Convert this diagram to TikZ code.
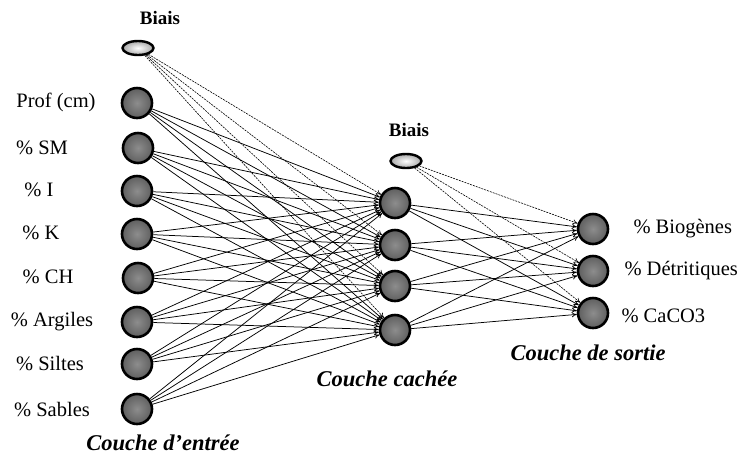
\documentclass[tikz,border=0pt]{standalone}
\usepackage{fontspec}
\setmainfont{Liberation Serif}
\usetikzlibrary{arrows.meta,shapes.geometric}
\definecolor{nodegray}{RGB}{112,112,112}
\definecolor{biasgray}{RGB}{225,225,225}
\begin{document}
\begin{tikzpicture}[x=1pt,y=-1pt,
  neuron/.style={circle,draw=black,line width=2.6pt,minimum size=30pt,inner sep=0pt,
    shading=radial,inner color=nodegray!80!white,outer color=nodegray!85!black},
  biasnode/.style={ellipse,draw=black,line width=2.4pt,minimum width=31pt,minimum height=14pt,inner sep=0pt,
    shading=radial,inner color=white,outer color=biasgray!75!black},
  lbl/.style={font=\fontsize{20.5}{23}\selectfont},
  title/.style={font=\fontsize{22.5}{25}\selectfont\bfseries\itshape},
  btitle/.style={font=\fontsize{19}{21}\selectfont\bfseries},
  conn/.style={line width=0.75pt,-{To[length=5pt,width=5pt]}},
  dconn/.style={line width=0.6pt,dash pattern=on 2pt off 1pt,-{To[length=5pt,width=5pt]}}
]
\useasboundingbox (0,0) rectangle (754,459);
% input layer
\node[neuron] (i1) at (137,103) {};
\node[neuron] (i2) at (138,148) {};
\node[neuron] (i3) at (137,191) {};
\node[neuron] (i4) at (137,234) {};
\node[neuron] (i5) at (138,278) {};
\node[neuron] (i6) at (137,322) {};
\node[neuron] (i7) at (137,364) {};
\node[neuron] (i8) at (137,409) {};
% hidden layer
\node[neuron] (h1) at (395,203) {};
\node[neuron] (h2) at (395,245) {};
\node[neuron] (h3) at (395,286) {};
\node[neuron] (h4) at (395,330) {};
% output layer
\node[neuron] (o1) at (593,229) {};
\node[neuron] (o2) at (593,271) {};
\node[neuron] (o3) at (593,313) {};
% bias nodes
\node[biasnode] (b1) at (138,48) {};
\node[biasnode] (b2) at (406,161) {};
% bias labels
\node[btitle] (bt1) at (160,18) {Biais};
\node[btitle] (bt2) at (409,130) {Biais};
% input labels
\node[lbl] (l1) at (56,102) {Prof (cm)};
\node[lbl] (l2) at (42,148) {\% SM};
\node[lbl] (l3) at (39,190) {\% I};
\node[lbl] (l4) at (41,233) {\% K};
\node[lbl] (l5) at (48,277) {\% CH};
\node[lbl] (l6) at (52,322) {\% Argiles};
\node[lbl] (l7) at (50,364) {\% Siltes};
\node[lbl] (l8) at (52,410) {\% Sables};
% output labels
\node[lbl,anchor=west] (ol1) at (630,229) {\% Biogènes};
\node[lbl,anchor=west] (ol2) at (621,271) {\% Détritiques};
\node[lbl,anchor=west] (ol3) at (618,316) {\% CaCO3};
% layer titles
\node[title] (t1) at (163,443) {Couche d’entrée};
\node[title] (t2) at (387,379) {Couche cachée};
\node[title] (t3) at (588,353) {Couche de sortie};
% connections
\foreach \i in {1,...,8}{
  \foreach \h in {1,...,4}{
    \draw[conn] (i\i) -- (h\h);
  }
}
\foreach \h in {1,...,4}{
  \foreach \o in {1,2,3}{
    \draw[conn] (h\h) -- (o\o);
  }
  \draw[dconn] (b1) -- (h\h);
}
\foreach \o in {1,2,3}{
  \draw[dconn] (b2) -- (o\o);
}
\end{tikzpicture}
\end{document}
